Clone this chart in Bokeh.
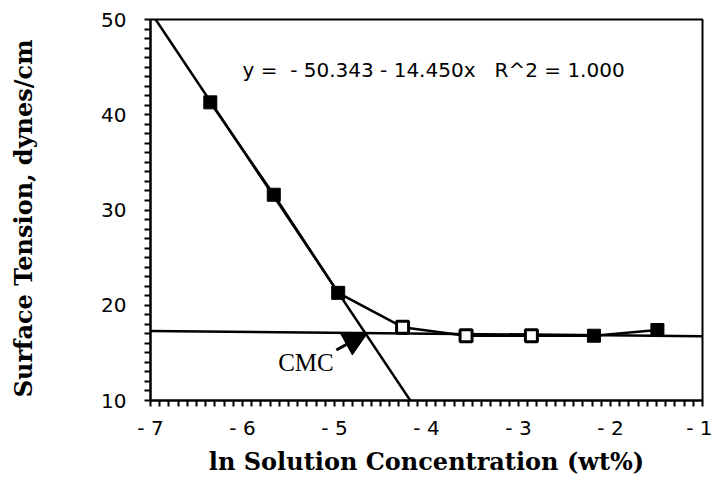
from bokeh.plotting import figure
from bokeh.models import Range1d, FixedTicker, Arrow, NormalHead, Label, CustomJSTickFormatter
from bokeh.embed import file_html
from bokeh.resources import INLINE

# --- data ---
conc = [-6.35, -5.66, -4.96, -4.26, -3.57, -2.86, -2.18, -1.49]
tension = [41.3, 31.6, 21.3, 17.7, 16.8, 16.8, 16.8, 17.4]
filled_x = [-6.35, -5.66, -4.96, -2.18, -1.49]
filled_y = [41.3, 31.6, 21.3, 16.8, 17.4]
hollow_x = [-4.26, -3.57, -2.86]
hollow_y = [17.7, 16.8, 16.8]

fit_intercept = -50.343
fit_slope = -14.450
fit_x = [-7.0, -4.0]
fit_y = [fit_intercept + fit_slope * v for v in fit_x]

plateau_x = [-7.0, -1.0]
plateau_y = [17.3, 16.75]

cmc_tail = (-4.98, 15.3)
cmc_tip = (-4.64, 17.1)
cmc_label_pos = (-5.31, 14.0)

x_ticks = [-7, -6, -5, -4, -3, -2, -1]
y_ticks = [10, 20, 30, 40, 50]
NB = "\u00a0"
equation_text = "y =" + NB + NB + "- 50.343 - 14.450x" + NB + NB + NB + "R^2 = 1.000"

# fine tick marks (every 0.1 on x, every 1 on y); labels only at the main ticks
x_fine = [round(-7 + 0.1 * i, 2) for i in range(61)]
y_fine = list(range(10, 51))

p = figure(width=712, height=478, output_backend="svg", toolbar_location=None,
           x_range=Range1d(-7, -1), y_range=Range1d(10, 50),
           min_border_left=150, min_border_right=10, min_border_top=19, min_border_bottom=78)
p.grid.visible = False
p.outline_line_color = "black"
p.outline_line_width = 2
p.background_fill_color = "white"
p.border_fill_color = "white"

# axes
p.xaxis.ticker = FixedTicker(ticks=x_fine, minor_ticks=[])
p.yaxis.ticker = FixedTicker(ticks=y_fine, minor_ticks=[])
p.xaxis.formatter = CustomJSTickFormatter(args=dict(labels=x_ticks), code="""
    const r = Math.round(tick * 10) / 10;
    for (const t of labels) { if (Math.abs(r - t) < 1e-6) return '- ' + Math.abs(t); }
    return '';
""")
p.yaxis.formatter = CustomJSTickFormatter(args=dict(labels=y_ticks), code="""
    const r = Math.round(tick);
    for (const t of labels) { if (r === t) return String(t); }
    return '';
""")
for ax in (p.xaxis, p.yaxis):
    ax.axis_line_width = 2
    ax.axis_line_color = "black"
    ax.major_tick_line_width = 2
    ax.major_tick_line_color = "black"
    ax.major_tick_in = 0
    ax.major_label_text_font = "DejaVu Sans"
    ax.major_label_text_font_size = "20px"
    ax.major_label_text_color = "black"
    ax.axis_label_text_font = "DejaVu Serif"
    ax.axis_label_text_font_style = "bold"
    ax.axis_label_text_font_size = "24px"
    ax.axis_label_text_color = "black"
p.xaxis.major_tick_out = 6
p.yaxis.major_tick_out = 6
p.xaxis.major_label_standoff = 9
p.yaxis.major_label_standoff = 18
p.xaxis.axis_label = "ln Solution Concentration (wt%)"
p.yaxis.axis_label = "Surface  Tension,  dynes/cm"
p.xaxis.axis_label_standoff = 4
p.yaxis.axis_label_standoff = 60

# lines
p.line(fit_x, fit_y, line_color="black", line_width=2.5)
p.line(plateau_x, plateau_y, line_color="black", line_width=2.5)
p.line(conc, tension, line_color="black", line_width=2.5)

# markers
p.scatter(filled_x, filled_y, marker="square", size=13, fill_color="black", line_color="black")
p.scatter(hollow_x, hollow_y, marker="square", size=12, fill_color="white", line_color="black", line_width=3)

# CMC annotation
p.add_layout(Arrow(end=NormalHead(size=24, fill_color="black", line_color="black"),
                   x_start=cmc_tail[0], y_start=cmc_tail[1], x_end=cmc_tip[0], y_end=cmc_tip[1],
                   line_width=3, line_color="black"))
p.add_layout(Label(x=cmc_label_pos[0], y=cmc_label_pos[1], text="CMC", text_font="Liberation Serif",
                   text_font_size="25px", text_align="center", text_baseline="middle", text_color="black"))

# equation
p.add_layout(Label(x=-6.0, y=44.75, text=equation_text, text_font="DejaVu Sans",
                   text_font_size="20px", text_align="left", text_baseline="middle", text_color="black"))

open("out.html", "w").write(file_html(p, INLINE))
